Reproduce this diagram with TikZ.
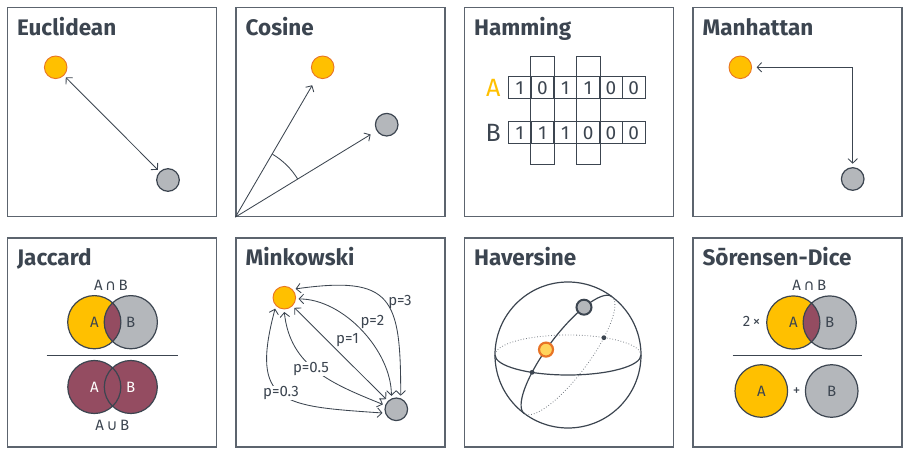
\documentclass[tikz,border=0pt]{standalone}
\usepackage{fontspec}
\setmainfont{Fira Sans}
\newfontfamily\setsym{DejaVu Sans}
\usetikzlibrary{positioning,arrows.meta}

\definecolor{ink}{RGB}{60,69,80}
\definecolor{frame}{RGB}{92,100,110}
\definecolor{gold}{RGB}{255,192,0}
\definecolor{rim}{RGB}{232,116,38}
\definecolor{stone}{RGB}{180,183,187}
\definecolor{wine}{RGB}{148,76,97}
\definecolor{pale}{RGB}{255,212,92}

\tikzset{
  >={Straight Barb[length=4.5pt,width=9.5pt]},
  panel/.style={draw=frame,line width=1.2pt,minimum size=209pt,inner sep=0pt},
  title/.style={anchor=base west,inner sep=0pt,text=ink,font=\fontsize{22.5}{25}\selectfont\bfseries},
  ptA/.style={circle,draw=rim,fill=gold,line width=0.9pt,minimum size=22.6pt,inner sep=0pt,outer sep=3pt},
  ptB/.style={circle,draw=ink,fill=stone,line width=1.2pt,minimum size=22.6pt,inner sep=0pt,outer sep=3pt},
  link/.style={draw=ink,line width=0.85pt},
  cell/.style={draw=ink,line width=1pt,minimum width=22.8pt,minimum height=22.4pt,inner sep=0pt,text=ink,font=\fontsize{19}{21}\selectfont},
  small/.style={inner sep=1pt,text=ink,font=\fontsize{15}{17}\selectfont},
  venn/.style={draw=ink,line width=1.2pt},
  globe/.style={draw=ink,line width=1.2pt},
  hidden/.style={draw=ink!70,line width=0.8pt,dotted},
  hA/.style={circle,draw=rim,fill=pale,line width=2.2pt,minimum size=14pt,inner sep=0pt},
  hB/.style={circle,draw=ink,fill=stone,line width=2pt,minimum size=15pt,inner sep=0pt},
}

\begin{document}
\begin{tikzpicture}[x=1pt,y=1pt]
\useasboundingbox (0,0) rectangle (911,456);

% frames
\node[panel] (euc) at (112,344) {};
\node[panel] (cosi) at (340.5,344) {};
\node[panel] (hamm) at (569,344) {};
\node[panel] (manh) at (797.5,344) {};
\node[panel] (jacc) at (112,113.5) {};
\node[panel] (mink) at (340.5,113.5) {};
\node[panel] (have) at (569,113.5) {};
\node[panel] (sore) at (797.5,113.5) {};

\node[title] (tEuc) at ([shift={(10,-28.5)}]euc.north west) {Euclidean};
\node[title] (tCos) at ([shift={(10,-28.5)}]cosi.north west) {Cosine};
\node[title] (tHam) at ([shift={(10,-28.5)}]hamm.north west) {Hamming};
\node[title] (tMan) at ([shift={(10,-28.5)}]manh.north west) {Manhattan};
\node[title] (tJac) at ([shift={(10,-28.5)}]jacc.north west) {Jaccard};
\node[title] (tMin) at ([shift={(10,-28.5)}]mink.north west) {Minkowski};
\node[title] (tHav) at ([shift={(10,-28.5)}]have.north west) {Haversine};
\node[title] (tSor) at ([shift={(10,-28.5)}]sore.north west) {Sōrensen-Dice};

% Euclidean
\node[ptA] (eA) at (55.7,388.7) {};
\node[ptB] (eB) at (168,276) {};
\draw[link,<->] (eA) -- (eB);

% Cosine
\coordinate (c0) at (cosi.south west);
\node[ptA] (cA) at (322.7,388.7) {};
\node[ptB] (cB) at (386.7,331.3) {};
\draw[link,->,shorten >=6.5pt] (c0) -- (cA);
\draw[link,->,shorten >=4.5pt] (c0) -- (cB);
\draw[link] ([shift={(31.5:73)}]c0) arc[start angle=31.5,end angle=59.5,radius=73];

% Hamming
\foreach \b [count=\i] in {1,0,1,1,0,0}
  \node[cell] (a\i) at (496.9+22.8*\i,368.2) {\b};
\foreach \b [count=\i] in {1,1,1,0,0,0}
  \node[cell] (b\i) at (496.9+22.8*\i,323.2) {\b};
\draw[link,line width=1pt] ([yshift=19.2pt]a2.north west) rectangle ([yshift=-20pt]b2.south east);
\draw[link,line width=1pt] ([yshift=19.2pt]a4.north west) rectangle ([yshift=-20pt]b4.south east);
\node[text=gold,font=\fontsize{25}{27}\selectfont] (hLA) at (493.3,368.2) {A};
\node[text=ink,font=\fontsize{25}{27}\selectfont] (hLB) at (493.3,323.2) {B};

% Manhattan
\node[ptA] (mA) at (740.3,388.7) {};
\node[ptB] (mB) at (852.7,277) {};
\draw[link,<->,shorten <=2pt,shorten >=1pt] (mA) -| (mB);

% Jaccard
\coordinate (jA) at (94.3,133.8);
\coordinate (jB) at (130.8,133.8);
\fill[gold] (jA) circle[radius=26.6];
\fill[stone] (jB) circle[radius=26.6];
\begin{scope}
  \clip (jA) circle[radius=26.6];
  \fill[wine] (jB) circle[radius=26.6];
\end{scope}
\draw[venn] (jA) circle[radius=26.6] (jB) circle[radius=26.6];
\node[small] (jla) at (jA) {A};
\node[small] (jlb) at (jB) {B};
\node[small] (jcap) at (111,170.7) {A\,{\setsym ∩}\,B};
\draw[link,line width=1pt] (46.7,101) -- (177.7,101);
\coordinate (jC) at (94.3,69);
\coordinate (jD) at (130.8,69);
\fill[wine] (jC) circle[radius=26.5] (jD) circle[radius=26.5];
\draw[venn] (jC) circle[radius=26.5] (jD) circle[radius=26.5];
\node[small,text=white] (jlc) at (jC) {A};
\node[small,text=white] (jld) at (jD) {B};
\node[small] (jcup) at (112.3,30.7) {A\,{\setsym ∪}\,B};

% Minkowski
\node[ptA] (kA) at (284.3,158.3) {};
\node[ptB] (kB) at (396.3,46.7) {};
\draw[link,<->] (kA.38) .. controls +(8:98) and +(90:98) .. (kB.72);
\draw[link,<->] (kA.-5) .. controls +(0:45) and +(90:45) .. (kB.110);
\draw[link,<->] (kA) -- (kB);
\draw[link,<->] (kA.-90) .. controls +(-84:55) and +(158:55) .. (kB.160);
\draw[link,<->] (kA.-130) .. controls +(-105:100) and +(176:100) .. (kB.195);
\node[small] (k3) at (400,153.5) {p=3};
\node[small] (k2) at (372.5,133.5) {p=2};
\node[small] (k1) at (347.5,116) {p=1};
\node[small,fill=white,inner sep=0.5pt] (k05) at (311,87) {p=0.5};
\node[small,fill=white,inner sep=0.5pt] (k03) at (281,62.7) {p=0.3};

% Haversine
\coordinate (hc) at (568,101);
\draw[globe] (hc) circle[radius=73];
\draw[hidden] (hc) ++(73,0) arc[start angle=0,end angle=180,x radius=73,y radius=20];
\draw[globe] (hc) ++(-73,0) arc[start angle=180,end angle=360,x radius=73,y radius=20];
\draw[hidden] plot[domain=0:180,samples=60,variable=\t] ({568+43.8*cos(\t)+16.8*sin(\t)},{101+58.4*cos(\t)-12.6*sin(\t)});
\draw[globe] plot[domain=180:360,samples=60,variable=\t] ({568+43.8*cos(\t)+16.8*sin(\t)},{101+58.4*cos(\t)-12.6*sin(\t)});
\coordinate (hq1) at (532.1,83.7);
\coordinate (hq2) at (603.9,118.3);
\fill[ink] (hq1) circle[radius=2.4] (hq2) circle[radius=2.4];
\node[hA] (hP) at (546,106.4) {};
\node[hB] (hQ) at (584,148.8) {};

% Sorensen-Dice
\coordinate (sA) at (793.3,133.5);
\coordinate (sB) at (829.7,133.5);
\fill[gold] (sA) circle[radius=26.6];
\fill[stone] (sB) circle[radius=26.6];
\begin{scope}
  \clip (sA) circle[radius=26.6];
  \fill[wine] (sB) circle[radius=26.6];
\end{scope}
\draw[venn] (sA) circle[radius=26.6] (sB) circle[radius=26.6];
\node[small] (sla) at (sA) {A};
\node[small] (slb) at (sB) {B};
\node[small] (scap) at (809.3,170.7) {A\,{\setsym ∩}\,B};
\node[small] (stwo) at (751.7,134.7) {2\,×};
\draw[link,line width=1pt] (732.7,101) -- (862.3,101);
\coordinate (sC) at (761.3,65);
\coordinate (sD) at (831.7,65);
\fill[gold] (sC) circle[radius=26.3];
\fill[stone] (sD) circle[radius=26.3];
\draw[venn] (sC) circle[radius=26.3] (sD) circle[radius=26.3];
\node[small] (slc) at (sC) {A};
\node[small] (sld) at (sD) {B};
\node[small] (splus) at (796.7,64.7) {+};
\end{tikzpicture}
\end{document}
